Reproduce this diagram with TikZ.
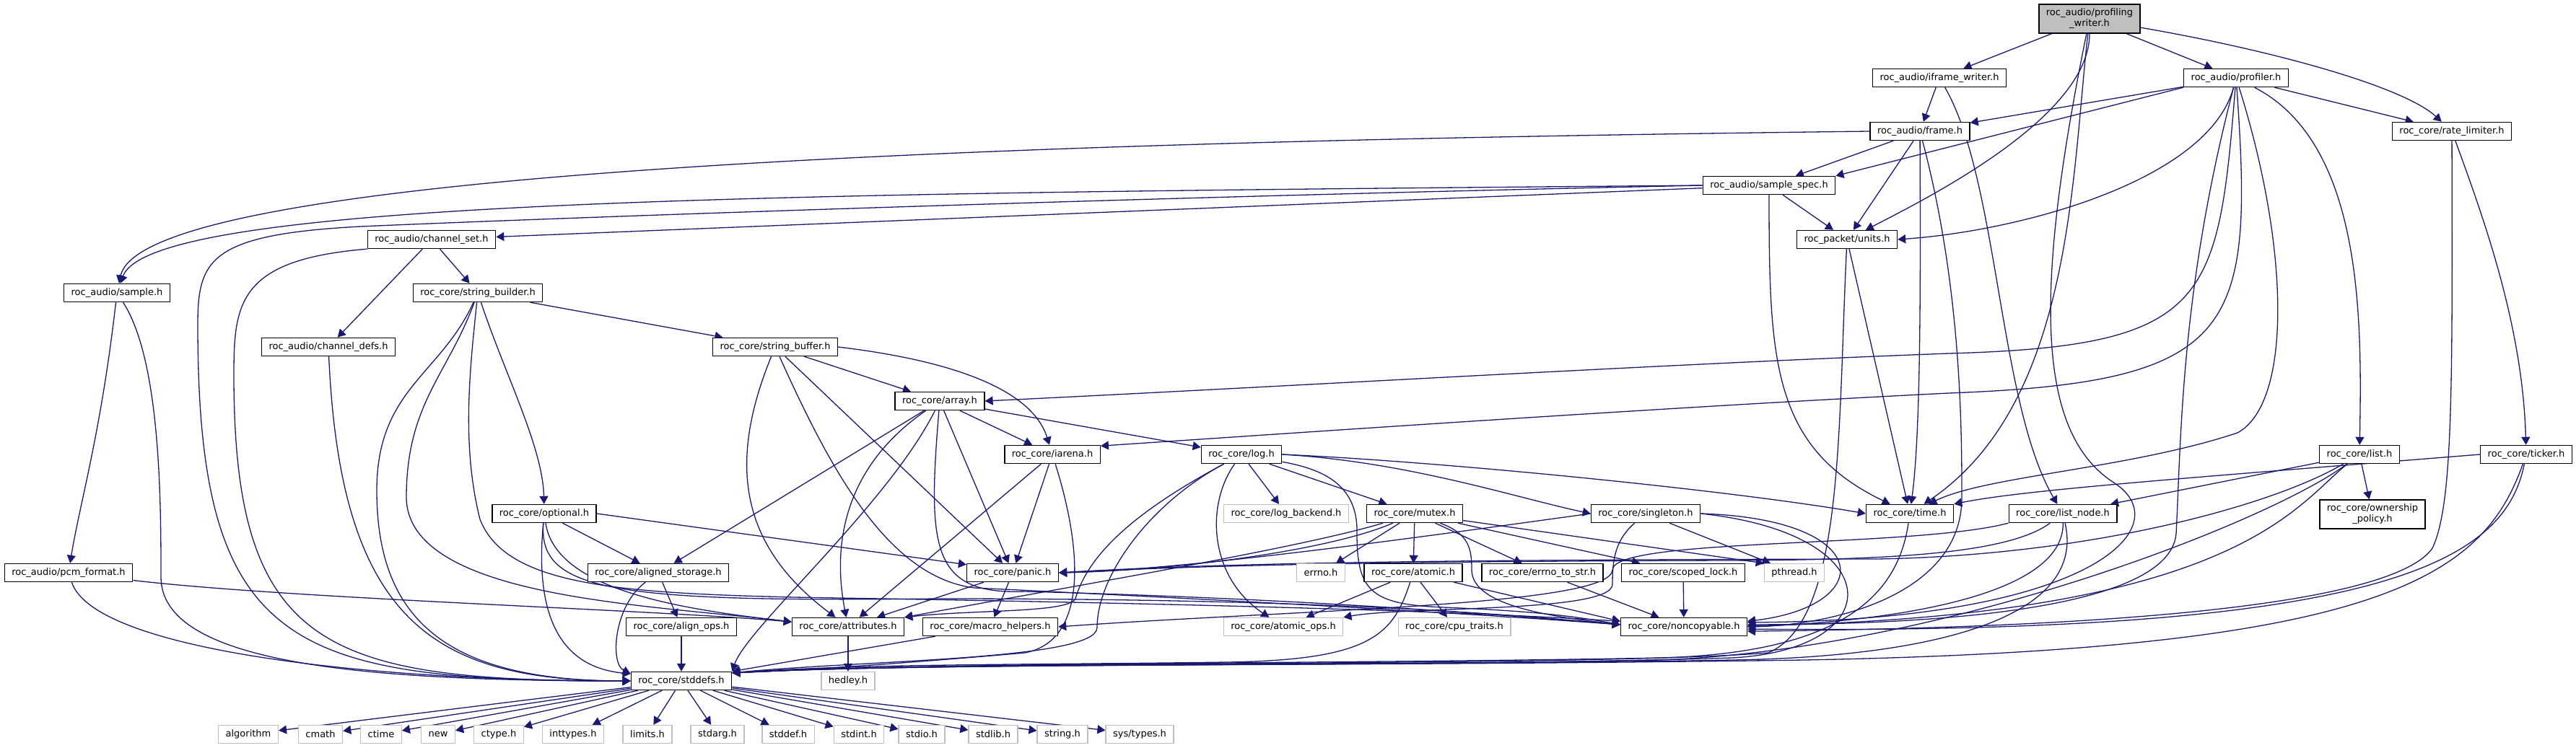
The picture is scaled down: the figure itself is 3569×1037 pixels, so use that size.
\documentclass[tikz,border=0pt]{standalone}
\usepackage{fontspec}
\setmainfont{DejaVu Sans}
\usetikzlibrary{arrows.meta,calc}
\definecolor{eblue}{HTML}{191970}
\definecolor{ngray}{HTML}{BFBFBF}
\pgfdeclarelayer{bg}
\pgfsetlayers{bg,main}
\tikzset{
 nd/.style={draw=black, line width=0.7pt, fill=white, font=\fontsize{6.5}{7.5}\selectfont, inner xsep=5pt, inner ysep=0pt, minimum height=12.5pt, align=center},
 sysn/.style={nd, draw=ngray},
 mainn/.style={nd, fill=ngray, minimum height=20pt},
 twol/.style={minimum height=20pt},
 conn/.style={draw=eblue, line width=0.65pt, -{Triangle[length=5.5pt,width=6pt]}}
}
\begin{document}
\begin{tikzpicture}[x=0.5pt,y=-0.5pt]
\useasboundingbox (0,0) rectangle (3569,1037);
\node[mainn] (pw) at (2895,26) {roc\_audio/profiling\\\_writer.h};
\node[nd] (ifw) at (2687,108) {roc\_audio/iframe\_writer.h};
\node[nd] (prof) at (3098,108) {roc\_audio/profiler.h};
\node[nd] (frame) at (2660,182) {roc\_audio/frame.h};
\node[nd] (rl) at (3397,182) {roc\_core/rate\_limiter.h};
\node[nd] (ss) at (2451,257) {roc\_audio/sample\_spec.h};
\node[nd] (cs) at (598,332) {roc\_audio/channel\_set.h};
\node[nd] (units) at (2559,332) {roc\_packet/units.h};
\node[nd] (sample) at (162,406) {roc\_audio/sample.h};
\node[nd] (sb) at (662,406) {roc\_core/string\_builder.h};
\node[nd] (cd) at (455,481) {roc\_audio/channel\_defs.h};
\node[nd] (sbuf) at (1074,481) {roc\_core/string\_buffer.h};
\node[nd] (array) at (1302,556) {roc\_core/array.h};
\node[nd] (iarena) at (1458,630) {roc\_core/iarena.h};
\node[nd] (log) at (1720,630) {roc\_core/log.h};
\node[nd] (list) at (3269,630) {roc\_core/list.h};
\node[nd] (ticker) at (3500,630) {roc\_core/ticker.h};
\node[nd] (optional) at (754,712) {roc\_core/optional.h};
\node[sysn] (logb) at (1782,712) {roc\_core/log\_backend.h};
\node[nd] (mutex) at (1960,712) {roc\_core/mutex.h};
\node[nd] (singleton) at (2280,712) {roc\_core/singleton.h};
\node[nd] (time) at (2646,712) {roc\_core/time.h};
\node[nd] (listnode) at (2858,712) {roc\_core/list\_node.h};
\node[nd,twol] (own) at (3287,713) {roc\_core/ownership\\\_policy.h};
\node[nd] (pcm) at (95,794) {roc\_audio/pcm\_format.h};
\node[nd] (as) at (912,794) {roc\_core/aligned\_storage.h};
\node[nd] (panic) at (1403,794) {roc\_core/panic.h};
\node[sysn] (errno) at (1830,794) {errno.h};
\node[nd] (atomic) at (1958,794) {roc\_core/atomic.h};
\node[nd] (e2s) at (2137,794) {roc\_core/errno\_to\_str.h};
\node[nd] (sl) at (2332,794) {roc\_core/scoped\_lock.h};
\node[sysn] (pthread) at (2486,794) {pthread.h};
\node[nd] (ao) at (944,869) {roc\_core/align\_ops.h};
\node[nd] (attr) at (1175,869) {roc\_core/attributes.h};
\node[nd] (mh) at (1372,869) {roc\_core/macro\_helpers.h};
\node[sysn] (aops) at (1778,869) {roc\_core/atomic\_ops.h};
\node[sysn] (cpu) at (2015,869) {roc\_core/cpu\_traits.h};
\node[nd] (nc) at (2333,869) {roc\_core/noncopyable.h};
\node[nd] (stddefs) at (944,944) {roc\_core/stddefs.h};
\node[sysn] (hedley) at (1175,944) {hedley.h};
\node[sysn] (s1) at (344,1018) {algorithm};
\node[sysn] (s2) at (444,1018) {cmath};
\node[sysn] (s3) at (528,1018) {ctime};
\node[sysn] (s4) at (607,1018) {new};
\node[sysn] (s5) at (691,1018) {ctype.h};
\node[sysn] (s6) at (794,1018) {inttypes.h};
\node[sysn] (s7) at (897,1018) {limits.h};
\node[sysn] (s8) at (994,1018) {stdarg.h};
\node[sysn] (s9) at (1092,1018) {stddef.h};
\node[sysn] (s10) at (1190,1018) {stdint.h};
\node[sysn] (s11) at (1277,1018) {stdio.h};
\node[sysn] (s12) at (1376,1018) {stdlib.h};
\node[sysn] (s13) at (1472,1018) {string.h};
\node[sysn] (s14) at (1579,1018) {sys/types.h};

\begin{pgfonlayer}{bg}
% profiling_writer
\draw[conn] (pw) -- (ifw);
\draw[conn] (pw) -- (prof);
\draw[conn] (pw) .. controls (3150,70) and (3330,120) .. (rl);
\draw[conn] (pw) .. controls (2895,160) and (2680,270) .. (units);
\draw[conn] (pw) .. controls (2870,250) and (2870,560) .. (time);
\draw[conn] (pw) .. controls (2819,400) and (2819,600) .. (2930,670) .. controls (3020,730) and (2900,860) .. (nc.4);
% iframe_writer
\draw[conn] (ifw) -- (frame);
\draw[conn] (ifw) .. controls (2769,250) and (2769,560) .. (listnode);
% profiler
\draw[conn] (prof) -- (frame);
\draw[conn] (prof.south west) -- (ss.north east);
\draw[conn] (prof) .. controls (3060,250) and (2800,320) .. (units.east);
\draw[conn] (prof) .. controls (3073,420) and (3060,480) .. (2700,490) .. controls (2300,505) and (1800,535) .. (array.east);
\draw[conn] (prof) .. controls (3123,460) and (3100,530) .. (2700,545) .. controls (2300,565) and (1800,600) .. (iarena.10);
\draw[conn] (prof) .. controls (3276,200) and (3272,450) .. (list);
\draw[conn] (prof) .. controls (3022,400) and (3022,600) .. (3015,740) .. controls (3005,850) and (2650,866) .. (nc.2);
\draw[conn] (prof) -- (rl);
\draw[conn] (prof) .. controls (3174,350) and (3174,560) .. (3100,600) .. controls (2950,650) and (2750,660) .. (time);
% frame
\draw[conn] (frame.west) .. controls (1500,195) and (200,230) .. (sample);
\draw[conn] (frame) -- (ss);
\draw[conn] (frame) -- (units);
\draw[conn] (frame) .. controls (2661,400) and (2661,600) .. (time);
\draw[conn] (frame) .. controls (2718,400) and (2718,600) .. (2718,690) .. controls (2718,820) and (2550,866) .. (nc.east);
% rate_limiter
\draw[conn] (rl) .. controls (3398,550) and (3398,700) .. (3370,760) .. controls (3300,860) and (2700,872) .. (nc.-4);
\draw[conn] (rl) .. controls (3440,300) and (3495,450) .. (ticker);
% sample_spec
\draw[conn] (ss) -- (cs);
\draw[conn] (ss.west) .. controls (1100,268) and (210,275) .. (sample);
\draw[conn] (ss.west) .. controls (1500,275) and (700,305) .. (500,314) .. controls (290,325) and (274,360) .. (274,450) .. controls (274,900) and (400,944) .. (stddefs.west);
\draw[conn] (ss) .. controls (2451,500) and (2455,620) .. (time);
\draw[conn] (ss) -- (units);
% channel_set
\draw[conn] (cs) -- (cd);
\draw[conn] (cs) -- (sb);
\draw[conn] (cs.south west) .. controls (330,360) and (324,420) .. (324,520) .. controls (324,900) and (450,944) .. (stddefs.west);
% units
\draw[conn] (units) .. controls (2546,600) and (2555,860) .. (2450,905) .. controls (2200,925) and (1300,915) .. (stddefs.9);
\draw[conn] (units) -- (time);
% sample
\draw[conn] (sample) .. controls (140,600) and (110,700) .. (pcm);
\draw[conn] (sample) .. controls (223,500) and (223,700) .. (223,800) .. controls (223,920) and (500,944) .. (stddefs.west);
% pcm_format
\draw[conn] (pcm) .. controls (400,830) and (900,845) .. (attr.175);
\draw[conn] (pcm) .. controls (130,900) and (500,944) .. (stddefs.west);
% string_builder
\draw[conn] (sb) -- (sbuf);
\draw[conn] (sb) .. controls (700,520) and (752,620) .. (optional);
\draw[conn] (sb) .. controls (610,520) and (522,540) .. (522,680) .. controls (522,860) and (620,944) .. (stddefs.west);
\draw[conn] (sb) .. controls (620,520) and (563,560) .. (563,690) .. controls (565,830) and (900,838) .. (attr.175);
\draw[conn] (sb) .. controls (650,520) and (640,620) .. (665,720) .. controls (700,810) and (850,822) .. (1100,828) .. controls (1600,836) and (2000,846) .. (nc.175);
% channel_defs
\draw[conn] (cd) .. controls (472,860) and (600,944) .. (stddefs.west);
% string_buffer
\draw[conn] (sbuf) -- (array);
\draw[conn] (sbuf.east) .. controls (1320,500) and (1430,540) .. (iarena);
\draw[conn] (sbuf) .. controls (1005,650) and (1030,760) .. (attr);
\draw[conn] (sbuf) -- (panic);
\draw[conn] (sbuf) .. controls (1150,650) and (1230,800) .. (1350,815) .. controls (1700,832) and (2000,848) .. (nc.178);
% array
\draw[conn] (array) -- (as);
\draw[conn] (array) .. controls (1180,640) and (1150,740) .. (attr);
\draw[conn] (array) -- (iarena);
\draw[conn] (array) -- (log);
\draw[conn] (array) .. controls (1285,760) and (1290,825) .. (1420,820) .. controls (1800,830) and (2050,850) .. (nc.178);
\draw[conn] (array) -- (panic);
\draw[conn] (array) .. controls (1230,700) and (1035,870) .. (stddefs.north east);
% iarena
\draw[conn] (iarena) -- (attr);
\draw[conn] (iarena) -- (panic);
\draw[conn] (iarena) .. controls (1505,780) and (1500,890) .. (1420,905) .. controls (1250,920) and (1100,930) .. (stddefs.9);
% log
\draw[conn] (log) .. controls (1590,700) and (1510,760) .. (1490,830) .. controls (1480,850) and (1350,845) .. (attr.north east);
\draw[conn] (log) .. controls (1670,700) and (1675,800) .. (aops);
\draw[conn] (log) -- (logb);
\draw[conn] (log) -- (mutex);
\draw[conn] (log) .. controls (1830,650) and (1882,670) .. (1880,740) .. controls (1880,820) and (1900,838) .. (2000,842) .. controls (2150,848) and (2200,858) .. (nc.178);
\draw[conn] (log.east) .. controls (1950,640) and (2100,690) .. (singleton.west);
\draw[conn] (log.east) .. controls (2000,640) and (2400,680) .. (time.west);
\draw[conn] (log) .. controls (1590,700) and (1520,800) .. (1520,870) .. controls (1520,915) and (1200,915) .. (stddefs.9);
% list
\draw[conn] (list) -- (listnode);
\draw[conn] (list) .. controls (3180,700) and (3100,855) .. (nc.1);
\draw[conn] (list) -- (own);
\draw[conn] (list) .. controls (3150,700) and (2900,770) .. (2600,775) .. controls (2000,776) and (1700,780) .. (panic.east);
\draw[conn] (list) .. controls (3150,720) and (2700,900) .. (2300,915) .. controls (1800,925) and (1300,918) .. (stddefs.9);
% ticker
\draw[conn] (ticker.west) .. controls (3000,665) and (2800,680) .. (time.north east);
\draw[conn] (ticker) .. controls (3470,780) and (3300,880) .. (nc.-2);
\draw[conn] (ticker) .. controls (3440,800) and (3300,900) .. (2500,915) .. controls (1800,925) and (1300,918) .. (stddefs.9);
% optional
\draw[conn] (optional) -- (as);
\draw[conn] (optional.east) -- (panic.170);
\draw[conn] (optional) .. controls (770,820) and (950,845) .. (attr.175);
\draw[conn] (optional) .. controls (745,820) and (850,835) .. (1300,830) .. controls (1800,830) and (2050,848) .. (nc.178);
\draw[conn] (optional) .. controls (740,860) and (780,925) .. (stddefs.172);
% aligned_storage
\draw[conn] (as) -- (ao);
\draw[conn] (as) .. controls (850,840) and (845,920) .. (stddefs.172);
% mutex
\draw[conn] (mutex) -- (errno);
\draw[conn] (mutex) -- (atomic);
\draw[conn] (mutex) -- (e2s);
\draw[conn] (mutex) -- (sl);
\draw[conn] (mutex) -- (pthread.north west);
\draw[conn] (mutex) .. controls (1850,760) and (1650,790) .. (panic.east);
\draw[conn] (mutex) .. controls (1800,760) and (1500,810) .. (attr.north east);
\draw[conn] (mutex) .. controls (2035,740) and (2039,760) .. (2039,790) .. controls (2039,840) and (2150,855) .. (nc.178);
% singleton
\draw[conn] (singleton) -- (pthread);
\draw[conn] (singleton.west) .. controls (2000,740) and (1650,790) .. (panic.east);
\draw[conn] (singleton.east) .. controls (2600,720) and (2600,840) .. (nc.5);
\draw[conn] (singleton) .. controls (2236,750) and (2234,780) .. (2234,810) .. controls (2234,850) and (1950,840) .. (aops.north east);
\draw[conn] (singleton.east) .. controls (2620,740) and (2620,900) .. (2400,912) .. controls (2000,925) and (1300,918) .. (stddefs.9);
% time
\draw[conn] (time) .. controls (2630,820) and (2560,905) .. (2300,912) .. controls (1900,920) and (1300,918) .. (stddefs.9);
% list_node
\draw[conn] (listnode.south west) .. controls (2650,760) and (2236,745) .. (2234,790) .. controls (2233,840) and (1800,845) .. (mh.east);
\draw[conn] (listnode) .. controls (2860,820) and (2650,860) .. (nc.east);
\draw[conn] (listnode) .. controls (2780,770) and (2600,776) .. (2400,777) .. controls (2000,778) and (1700,782) .. (panic.east);
\draw[conn] (listnode) .. controls (2890,850) and (2700,910) .. (2400,915) .. controls (2000,922) and (1300,918) .. (stddefs.9);
% atomic
\draw[conn] (atomic) -- (aops);
\draw[conn] (atomic) -- (cpu);
\draw[conn] (atomic) -- (nc.175);
\draw[conn] (atomic) .. controls (1930,880) and (1900,915) .. (1700,918) .. controls (1400,922) and (1200,920) .. (stddefs.9);
% others
\draw[conn] (e2s) -- (nc);
\draw[conn] (sl) -- (nc);
\draw[conn] (ao) -- (stddefs);
\draw[conn] (panic) -- (attr);
\draw[conn] (panic) -- (mh);
\draw[conn] (attr) -- (hedley);
\draw[conn] (mh) -- (stddefs.north east);
\foreach \k in {1,...,14} {\draw[conn] (stddefs) -- (s\k);}
\end{pgfonlayer}
\end{tikzpicture}
\end{document}
